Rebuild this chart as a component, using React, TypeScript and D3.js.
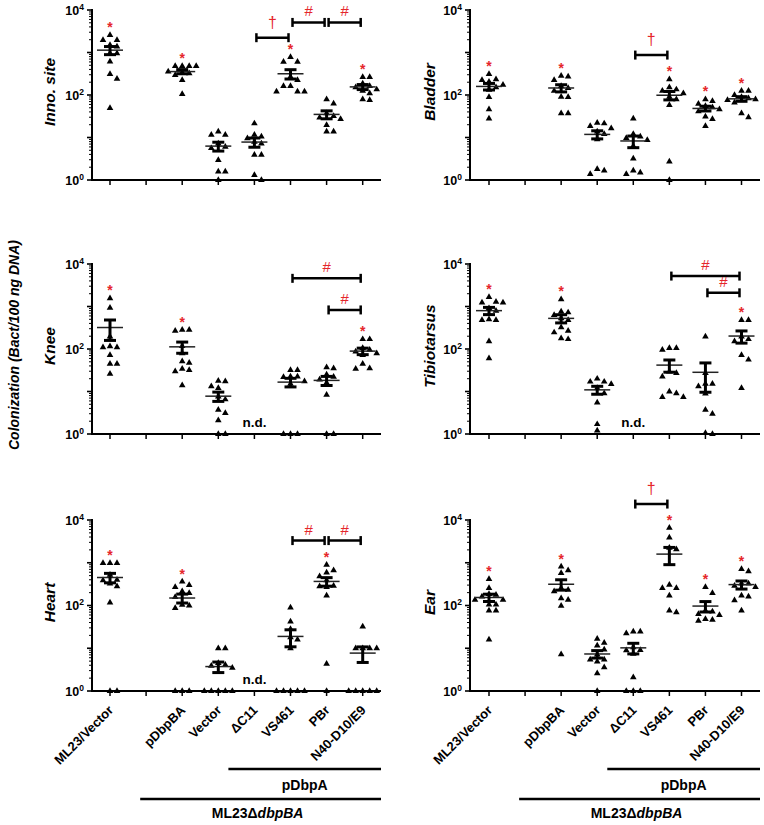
import React, { useEffect, useRef } from 'react';
import * as d3 from 'd3';

// groups on the x axis; index 1 is the empty slot after ML23/Vector
const groups = ['ML23/Vector', '', 'pDbpBA', 'Vector', '\u0394C11', 'VS461', 'PBr', 'N40-D10/E9'];

// bacterial loads per animal, one array per group (null = gap or n.d.)
const innoSite = [
  [2570, 1960, 1960, 1500, 1380, 955, 955, 610, 310, 240, 49],
  null,
  [479, 479, 479, 479, 355, 339, 324, 295, 224, 105],
  [13.8, 11.5, 11.5, 7.2, 6.0, 5.6, 2.95, 1.58, 1.58, 1],
  [21.4, 11.5, 10.5, 9.5, 7.9, 7.2, 3.9, 3.9, 1.3, 1],
  [776, 603, 603, 269, 224, 162, 162, 120, 120, 120],
  [79, 63, 37, 32, 29.5, 27, 19.5, 13.8, 13.8],
  [263, 263, 186, 162, 151, 135, 126, 110, 79, 76],
];
const bladder = [
  [309, 234, 224, 204, 174, 151, 132, 89, 46, 28],
  null,
  [282, 270, 224, 162, 145, 126, 91, 89, 37, 37],
  [22, 21.4, 18.6, 16.5, 13.8, 12, 9.1, 1.8, 1.66, 1.38],
  [28, 12, 10.5, 9.7, 8.7, 6.3, 3.2, 1.66, 1.5, 1.38],
  [234, 151, 135, 126, 110, 91, 79, 58, 2.7, 1],
  [79, 72, 62, 55, 51, 46, 41, 31, 27, 18.6],
  [126, 126, 100, 89, 83, 79, 76, 66, 37, 30],
];
const knee = [
  [1550, 933, 195, 115, 110, 110, 72, 45, 45, 26],
  null,
  [282, 269, 282, 117, 79, 51, 47, 34, 30, 32, 14],
  [17.8, 17.4, 13.2, 12, 7.6, 6.5, 3.7, 3.1, 2.1, 1, 1],
  null,
  [32, 32, 22.4, 22.4, 21.9, 17.4, 15.1, 1, 1, 1],
  [37, 35, 25, 22, 19, 16, 8.3, 1, 1],
  [170, 170, 105, 95, 87, 79, 72, 45, 35, 34],
];
const tibiotarsus = [
  [1660, 1290, 1230, 1230, 912, 794, 501, 479, 479, 151, 60],
  null,
  [1480, 759, 724, 631, 525, 479, 324, 269, 245, 178, 170],
  [20, 17, 17, 15, 12, 9, 5.5, 1.7, 1.2],
  null,
  [105, 105, 95, 29.5, 27, 22.4, 10, 9.1, 7.4, 7.4],
  [195, 27, 15.1, 15.1, 13.2, 8.9, 3.7, 3.0, 1.05, 1],
  [479, 479, 195, 170, 151, 72, 56, 12],
];
const heart = [
  [977, 977, 977, 525, 398, 389, 324, 282, 117, 1, 1],
  null,
  [363, 302, 269, 214, 195, 158, 104, 100, 87, 1, 1, 1],
  [10, 10, 4.5, 4.1, 3.9, 3.5, 1, 1, 1, 1, 1],
  null,
  [89, 42, 28, 18, 16, 10, 1, 1, 1, 1, 1],
  [891, 661, 589, 479, 389, 288, 282, 269, 170, 4.3, 1],
  [32, 10, 10, 10, 10, 1, 1, 1, 1, 1],
];
const ear = [
  [417, 257, 186, 178, 162, 135, 135, 105, 105, 76, 76, 16],
  null,
  [813, 661, 575, 257, 234, 214, 148, 135, 98, 7.2],
  [16.6, 13.4, 11.5, 9.3, 7.1, 5.4, 5.4, 4.9, 3.6, 2.6, 1],
  [24.5, 24.5, 22.4, 10.5, 9.1, 8.9, 7.4, 2.1, 1, 1, 1],
  [6600, 3900, 2240, 2050, 305, 257, 257, 170, 76, 69],
  [269, 195, 76, 72, 63, 60, 48, 46, 44],
  [708, 631, 324, 324, 288, 269, 170, 162, 132, 76],
];

// red asterisks (vs. Vector) by group index
const innoStars = [0, 2, 5, 7];
const bladderStars = [0, 2, 5, 6, 7];
const kneeStars = [0, 2, 7];
const tibioStars = [0, 2, 7];
const heartStars = [0, 2, 6];
const earStars = [0, 2, 5, 6, 7];

// comparison brackets: from group, to group, symbol, height (same units as data)
type Bracket = [number, number, string, number];
const innoBrackets: Bracket[] = [[4, 5, '\u2020', 2230], [5, 6, '#', 5100], [6, 7, '#', 5100]];
const bladderBrackets: Bracket[] = [[4, 5, '\u2020', 870]];
const kneeBrackets: Bracket[] = [[5, 7, '#', 4600], [6, 7, '#', 830]];
const tibioBrackets: Bracket[] = [[5, 7, '#', 5200], [6, 7, '#', 2100]];
const heartBrackets: Bracket[] = [[5, 6, '#', 3300], [6, 7, '#', 3300]];
const earBrackets: Bracket[] = [[4, 5, '\u2020', 23600]];

const FONT = "'Liberation Sans', Arial, Helvetica, sans-serif";
const RED = '#e5262b';

// place points of equal height side by side, like Prism's scatter
function dodge(ys: number[], step: number, minDy: number): number[] {
  const order = ys.map((y, i) => i).sort((a, b) => ys[a] - ys[b]);
  const out = new Array(ys.length).fill(0);
  const placed: { x: number; y: number }[] = [];
  order.forEach((i) => {
    const y = ys[i];
    for (let k = 0; k < 20; k++) {
      const off = k === 0 ? 0 : (k % 2 ? 1 : -1) * Math.ceil(k / 2) * step;
      const clash = placed.some((p) => Math.abs(p.y - y) < minDy && Math.abs(p.x - off) < step - 0.1);
      if (!clash) {
        out[i] = off;
        placed.push({ x: off, y });
        break;
      }
    }
  });
  return out;
}

export default function App() {
  const svgRef = useRef<SVGSVGElement>(null);
  const width = 764;
  const height = 825;

  useEffect(() => {
    if (!svgRef.current) return;
    const svg = d3.select(svgRef.current);
    svg.selectAll('*').remove();

    const panels = [
      { label: 'Inno. site', data: innoSite, stars: innoStars, brackets: innoBrackets, nd: [] as number[], left: true, top: 10, bottom: 180 },
      { label: 'Bladder', data: bladder, stars: bladderStars, brackets: bladderBrackets, nd: [], left: false, top: 10, bottom: 180 },
      { label: 'Knee', data: knee, stars: kneeStars, brackets: kneeBrackets, nd: [4], left: true, top: 264, bottom: 434 },
      { label: 'Tibiotarsus', data: tibiotarsus, stars: tibioStars, brackets: tibioBrackets, nd: [4], left: false, top: 264, bottom: 434 },
      { label: 'Heart', data: heart, stars: heartStars, brackets: heartBrackets, nd: [4], left: true, top: 520, bottom: 691 },
      { label: 'Ear', data: ear, stars: earStars, brackets: earBrackets, nd: [], left: false, top: 520, bottom: 691 },
    ];

    const tri = d3.symbol().type(d3.symbolTriangle).size(19);

    panels.forEach((p, pi) => {
      const axisX = p.left ? 92 : 470;
      const axisEnd = p.left ? 381 : 760;
      const x = d3.scalePoint<number>()
        .domain(groups.map((_, i) => i))
        .range(p.left ? [110, 362.7] : [489, 741.5]);
      const y = d3.scaleLog().domain([1, 10000]).range([p.bottom, p.top]).clamp(true);
      const g = svg.append('g');

      // y axis with log minor ticks
      g.append('line').attr('x1', axisX).attr('x2', axisX).attr('y1', p.top - 1).attr('y2', p.bottom)
        .attr('stroke', '#000').attr('stroke-width', 2);
      for (let dec = 0; dec <= 4; dec++) {
        for (let m = 1; m <= 9; m++) {
          const v = m * Math.pow(10, dec);
          if (v > 10000) break;
          const len = m === 1 ? 5 : 3;
          g.append('line').attr('x1', axisX - len).attr('x2', axisX).attr('y1', y(v)).attr('y2', y(v))
            .attr('stroke', '#000').attr('stroke-width', m === 1 ? 1.6 : 1);
        }
      }
      [0, 2, 4].forEach((e) => {
        const t = g.append('text').attr('x', axisX - 8).attr('y', y(Math.pow(10, e)) + 4.5)
          .attr('text-anchor', 'end').attr('font-family', FONT).attr('font-weight', 'bold').attr('font-size', 12.5);
        t.append('tspan').text('10');
        t.append('tspan').attr('dy', -5).attr('font-size', 8.5).text(String(e));
      });

      // x axis
      g.append('line').attr('x1', axisX - 1).attr('x2', axisEnd).attr('y1', p.bottom).attr('y2', p.bottom)
        .attr('stroke', '#000').attr('stroke-width', 2);
      groups.forEach((_, i) => {
        g.append('line').attr('x1', x(i)!).attr('x2', x(i)!).attr('y1', p.bottom).attr('y2', p.bottom + 5)
          .attr('stroke', '#000').attr('stroke-width', 1.5);
      });

      // panel title
      g.append('text')
        .attr('transform', `translate(${p.left ? 55 : 435},${(p.top + p.bottom) / 2 - 3}) rotate(-90)`)
        .attr('text-anchor', 'middle').attr('font-family', FONT).attr('font-weight', 'bold')
        .attr('font-style', 'italic').attr('font-size', 15.5).text(p.label);

      // points and mean ± SEM
      p.data.forEach((vals, gi) => {
        if (!vals) return;
        const cx = x(gi)!;
        const ys = vals.map((v) => y(v));
        const offs = dodge(ys, 7, 6);
        vals.forEach((v, k) => {
          g.append('path').attr('d', tri).attr('fill', '#000')
            .attr('transform', `translate(${cx + offs[k]},${ys[k]})`);
        });
        const mean = d3.mean(vals)!;
        const sem = d3.deviation(vals)! / Math.sqrt(vals.length);
        const yHi = y(mean + sem);
        const yLo = y(Math.max(1, mean - sem));
        g.append('line').attr('x1', cx - 13).attr('x2', cx + 13).attr('y1', y(mean)).attr('y2', y(mean))
          .attr('stroke', '#222').attr('stroke-width', 1.5);
        g.append('line').attr('x1', cx).attr('x2', cx).attr('y1', yHi).attr('y2', yLo)
          .attr('stroke', '#000').attr('stroke-width', 3);
        [yHi, yLo].forEach((yy) => {
          g.append('line').attr('x1', cx - 6).attr('x2', cx + 6).attr('y1', yy).attr('y2', yy)
            .attr('stroke', '#000').attr('stroke-width', 3);
        });
      });

      // asterisks above groups
      p.stars.forEach((gi) => {
        const vals = p.data[gi]!;
        const yTop = y(d3.max(vals)!) - 11;
        g.append('text').attr('x', x(gi)!).attr('y', yTop + 8).attr('text-anchor', 'middle')
          .attr('font-family', FONT).attr('font-weight', 'bold').attr('font-size', 14).attr('fill', RED).text('*');
      });

      // brackets
      p.brackets.forEach(([a, b, sym, v]) => {
        const yy = p.top + (p.bottom - p.top) * (1 - Math.log10(v) / 4);
        const x1 = x(a)! + 2;
        const x2 = x(b)! - 2;
        g.append('line').attr('x1', x1).attr('x2', x2).attr('y1', yy).attr('y2', yy)
          .attr('stroke', '#000').attr('stroke-width', 2.5);
        [x1, x2].forEach((xx) => {
          g.append('line').attr('x1', xx).attr('x2', xx).attr('y1', yy - 4.5).attr('y2', yy + 4.5)
            .attr('stroke', '#000').attr('stroke-width', 2.5);
        });
        g.append('text').attr('x', (x1 + x2) / 2).attr('y', yy - (sym === '#' ? 6 : 10))
          .attr('text-anchor', 'middle').attr('font-family', FONT).attr('font-size', sym === '#' ? 15 : 16)
          .attr('fill', RED).text(sym);
      });

      // not detected
      p.nd.forEach((gi) => {
        g.append('text').attr('x', x(gi)!).attr('y', p.bottom - 7).attr('text-anchor', 'middle')
          .attr('font-family', FONT).attr('font-weight', 'bold').attr('font-size', 13.5).text('n.d.');
      });

      // category labels and group bars under the bottom row
      if (pi >= 4) {
        groups.forEach((name, i) => {
          if (!name) return;
          g.append('text').attr('transform', `translate(${x(i)! + 4},${p.bottom + 20}) rotate(-45)`)
            .attr('text-anchor', 'end').attr('font-family', FONT).attr('font-weight', 'bold')
            .attr('font-size', 13).text(name);
        });
        const pStart = x(4)! - 26;
        const mStart = x(2)! - 42;
        g.append('line').attr('x1', pStart).attr('x2', axisEnd).attr('y1', 769).attr('y2', 769)
          .attr('stroke', '#000').attr('stroke-width', 2.5);
        g.append('text').attr('x', (pStart + axisEnd) / 2).attr('y', 790).attr('text-anchor', 'middle')
          .attr('font-family', FONT).attr('font-weight', 'bold').attr('font-size', 14).text('pDbpA');
        g.append('line').attr('x1', mStart).attr('x2', axisEnd).attr('y1', 799).attr('y2', 799)
          .attr('stroke', '#000').attr('stroke-width', 2.5);
        const t = g.append('text').attr('x', (mStart + axisEnd) / 2 - 3).attr('y', 818).attr('text-anchor', 'middle')
          .attr('font-family', FONT).attr('font-weight', 'bold').attr('font-size', 14);
        t.append('tspan').text('ML23\u0394');
        t.append('tspan').attr('font-style', 'italic').text('dbpBA');
      }
    });

    // shared y label
    svg.append('text').attr('transform', 'translate(19,345) rotate(-90)').attr('text-anchor', 'middle')
      .attr('font-family', FONT).attr('font-weight', 'bold').attr('font-style', 'italic').attr('font-size', 14)
      .text('Colonization (Bact/100 ng DNA)');
  }, []);

  return (
    <svg ref={svgRef} width={width} height={height} viewBox={`0 0 ${width} ${height}`}
      style={{ position: 'absolute', left: 0, top: 0, background: '#fff' }} />
  );
}
